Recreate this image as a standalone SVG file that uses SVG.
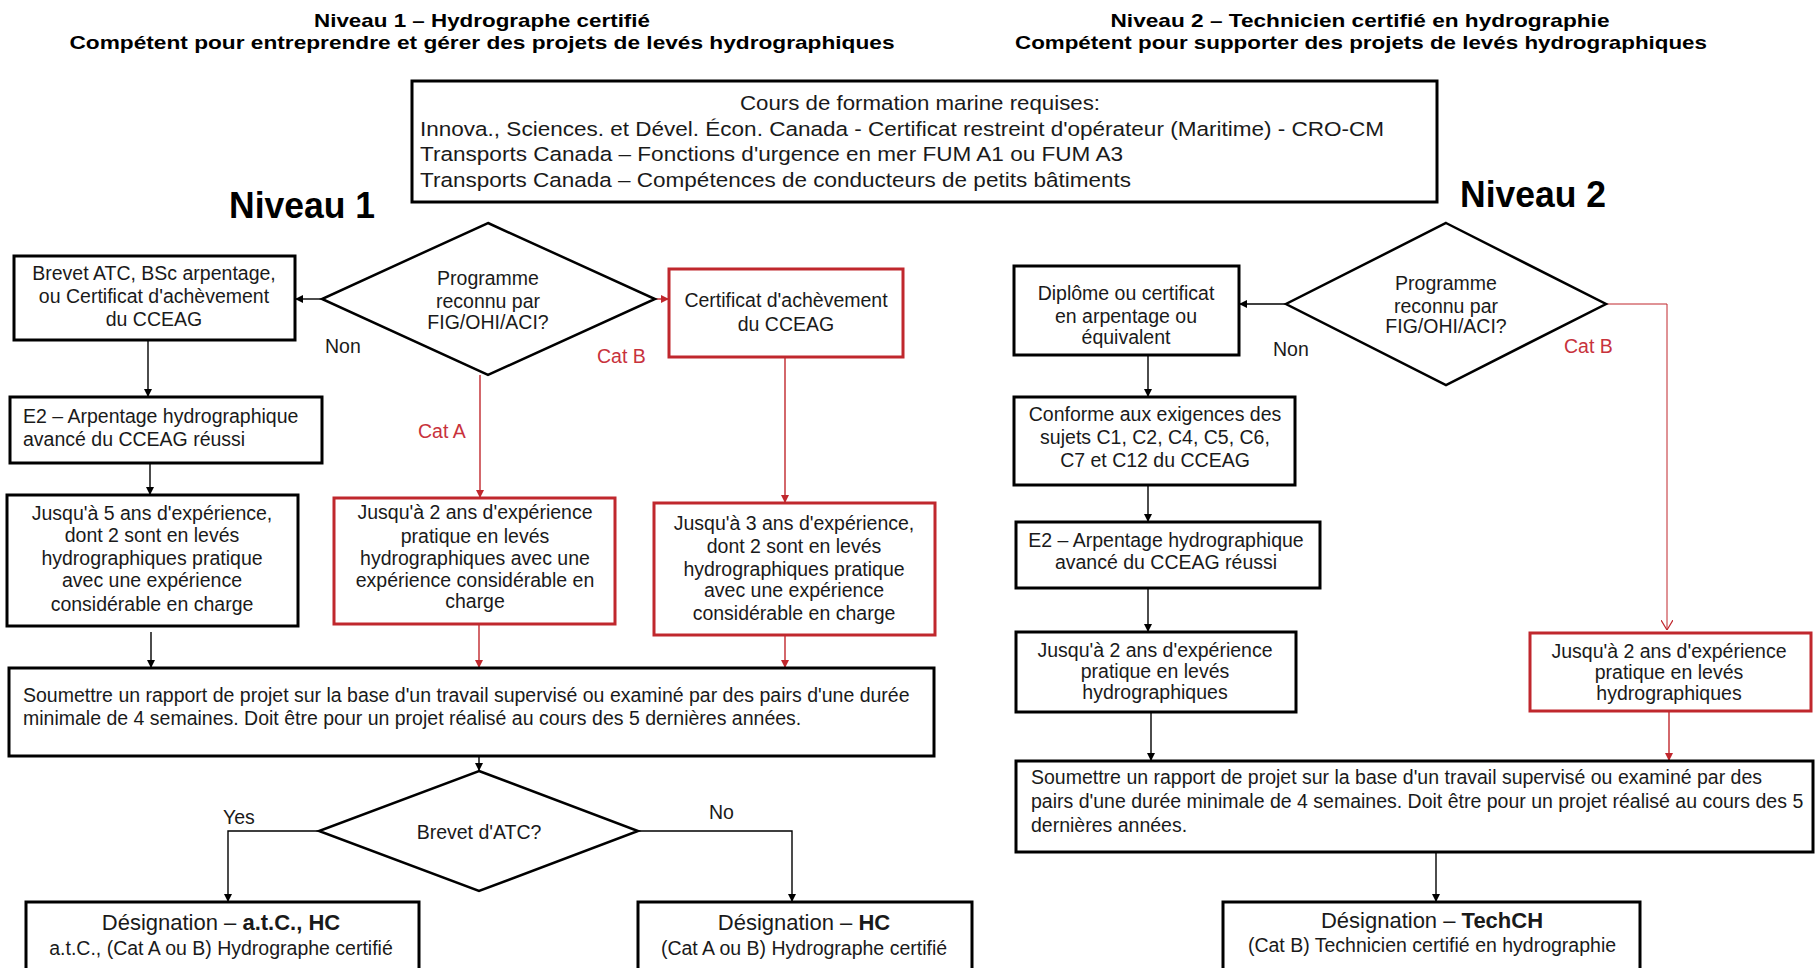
<svg xmlns="http://www.w3.org/2000/svg" width="1819" height="968" viewBox="0 0 1819 968">
<defs>
<style>
.box{fill:#fff;stroke:#000;stroke-width:3}
.rbox{fill:#fff;stroke:#c0272d;stroke-width:3}
.dia{fill:#fff;stroke:#000;stroke-width:2.5}
.c{stroke:#000;stroke-width:1.4;fill:none}
.rc{stroke:#c0272d;stroke-width:1.4;fill:none}
text{font-family:"Liberation Sans",Arial,sans-serif;font-size:19.5px;fill:#1a1a1a}
.m{text-anchor:middle}
.t{font-weight:bold;font-size:18.5px;fill:#000}
.big{font-weight:bold;font-size:36px;fill:#000}
.red{fill:#c8323c}
.des{font-size:22px}
.crs{font-size:20.5px}
</style>
<marker id="ab" viewBox="0 0 8 8" refX="8" refY="4" markerWidth="8" markerHeight="8" markerUnits="userSpaceOnUse" orient="auto"><path d="M0,0 L8,4 L0,8 z" fill="#000"/></marker>
<marker id="ar" viewBox="0 0 8 8" refX="8" refY="4" markerWidth="8" markerHeight="8" markerUnits="userSpaceOnUse" orient="auto"><path d="M0,0 L8,4 L0,8 z" fill="#c0272d"/></marker>
<marker id="av" viewBox="0 0 10 12" refX="10" refY="6" markerWidth="10" markerHeight="12" markerUnits="userSpaceOnUse" orient="auto"><path d="M0,0 L10,6 L0,12" fill="none" stroke="#c0272d" stroke-width="1.2"/></marker>
</defs>
<rect width="1819" height="968" fill="#fff"/>

<g id="titles">
<text class="t m" x="482" y="27" textLength="336" lengthAdjust="spacingAndGlyphs">Niveau 1 – Hydrographe certifié</text>
<text class="t m" x="482" y="49" textLength="825" lengthAdjust="spacingAndGlyphs">Compétent pour entreprendre et gérer des projets de levés hydrographiques</text>
<text class="t m" x="1360" y="27" textLength="499" lengthAdjust="spacingAndGlyphs">Niveau 2 – Technicien certifié en hydrographie</text>
<text class="t m" x="1361" y="49" textLength="692" lengthAdjust="spacingAndGlyphs">Compétent pour supporter des projets de levés hydrographiques</text>
<text class="big m" x="302" y="218" textLength="146" lengthAdjust="spacingAndGlyphs">Niveau 1</text>
<text class="big m" x="1533" y="207" textLength="146" lengthAdjust="spacingAndGlyphs">Niveau 2</text>
</g>

<g id="courses">
<rect class="box" x="412" y="81" width="1025" height="121"/>
<text class="m crs" x="920" y="110" textLength="360" lengthAdjust="spacingAndGlyphs">Cours de formation marine requises:</text>
<text class="crs" x="420" y="136" textLength="964" lengthAdjust="spacingAndGlyphs">Innova., Sciences. et Dével. Écon. Canada - Certificat restreint d'opérateur (Maritime) - CRO-CM</text>
<text class="crs" x="420" y="161" textLength="703" lengthAdjust="spacingAndGlyphs">Transports Canada – Fonctions d'urgence en mer FUM A1 ou FUM A3</text>
<text class="crs" x="420" y="187" textLength="711" lengthAdjust="spacingAndGlyphs">Transports Canada – Compétences de conducteurs de petits bâtiments</text>
</g>

<g id="connectors">
<line class="c" x1="322" y1="299" x2="295" y2="299" marker-end="url(#ab)"/>
<line class="rc" x1="655" y1="299" x2="669" y2="299" marker-end="url(#ar)"/>
<line class="rc" x1="480" y1="375" x2="480" y2="498" marker-end="url(#ar)"/>
<line class="c" x1="148" y1="340" x2="148" y2="397" marker-end="url(#ab)"/>
<line class="c" x1="150" y1="463" x2="150" y2="495" marker-end="url(#ab)"/>
<line class="rc" x1="785" y1="357" x2="785" y2="503" marker-end="url(#ar)"/>
<line class="c" x1="151" y1="632" x2="151" y2="668" marker-end="url(#ab)"/>
<line class="rc" x1="479" y1="624" x2="479" y2="668" marker-end="url(#ar)"/>
<line class="rc" x1="785" y1="635" x2="785" y2="668" marker-end="url(#ar)"/>
<line class="c" x1="479" y1="756" x2="479" y2="771" marker-end="url(#ab)"/>
<polyline class="c" points="319,831 228,831 228,902" marker-end="url(#ab)"/>
<polyline class="c" points="638,831 792,831 792,902" marker-end="url(#ab)"/>
<line class="c" x1="1286" y1="304" x2="1239" y2="304" marker-end="url(#ab)"/>
<polyline class="rc" points="1606,304 1667,304 1667,630" style="stroke-width:1" marker-end="url(#av)"/>
<line class="c" x1="1148" y1="355" x2="1148" y2="397" marker-end="url(#ab)"/>
<line class="c" x1="1148" y1="485" x2="1148" y2="522" marker-end="url(#ab)"/>
<line class="c" x1="1148" y1="588" x2="1148" y2="632" marker-end="url(#ab)"/>
<line class="c" x1="1151" y1="712" x2="1151" y2="761" marker-end="url(#ab)"/>
<line class="rc" x1="1669" y1="711" x2="1669" y2="761" marker-end="url(#ar)"/>
<line class="c" x1="1436" y1="852" x2="1436" y2="902" marker-end="url(#ab)"/>
</g>

<g id="labels">
<text x="325" y="353">Non</text>
<text class="red" x="597" y="363">Cat B</text>
<text class="red" x="418" y="438">Cat A</text>
<text x="223" y="824">Yes</text>
<text x="709" y="819">No</text>
<text x="1273" y="356">Non</text>
<text class="red" x="1564" y="353">Cat B</text>
</g>

<g id="n_brevet">
<rect class="box" x="14" y="256" width="281" height="84"/>
<text class="m" x="154" y="280">Brevet ATC, BSc arpentage,</text>
<text class="m" x="154" y="303">ou Certificat d'achèvement</text>
<text class="m" x="154" y="326">du CCEAG</text>
</g>

<g id="d_prog1">
<polygon class="dia" points="488,223 655,299 488,375 322,299"/>
<text class="m" x="488" y="285">Programme</text>
<text class="m" x="488" y="308">reconnu par</text>
<text class="m" x="488" y="329">FIG/OHI/ACI?</text>
</g>

<g id="n_cert">
<rect class="rbox" x="669" y="269" width="234" height="88"/>
<text class="m" x="786" y="307">Certificat d'achèvement</text>
<text class="m" x="786" y="331">du CCEAG</text>
</g>

<g id="n_e2L">
<rect class="box" x="10" y="397" width="312" height="66"/>
<text x="23" y="423">E2 – Arpentage hydrographique</text>
<text x="23" y="446">avancé du CCEAG réussi</text>
</g>

<g id="n_exp5">
<rect class="box" x="7" y="495" width="291" height="131"/>
<text class="m" x="152" y="520">Jusqu'à 5 ans d'expérience,</text>
<text class="m" x="152" y="542">dont 2 sont en levés</text>
<text class="m" x="152" y="565">hydrographiques pratique</text>
<text class="m" x="152" y="587">avec une expérience</text>
<text class="m" x="152" y="611">considérable en charge</text>
</g>

<g id="n_exp2L">
<rect class="rbox" x="334" y="498" width="281" height="126"/>
<text class="m" x="475" y="519">Jusqu'à 2 ans d'expérience</text>
<text class="m" x="475" y="543">pratique en levés</text>
<text class="m" x="475" y="565">hydrographiques avec une</text>
<text class="m" x="475" y="587">expérience considérable en</text>
<text class="m" x="475" y="608">charge</text>
</g>

<g id="n_exp3">
<rect class="rbox" x="654" y="503" width="281" height="132"/>
<text class="m" x="794" y="530">Jusqu'à 3 ans d'expérience,</text>
<text class="m" x="794" y="553">dont 2 sont en levés</text>
<text class="m" x="794" y="576">hydrographiques pratique</text>
<text class="m" x="794" y="597">avec une expérience</text>
<text class="m" x="794" y="620">considérable en charge</text>
</g>

<g id="n_submitL">
<rect class="box" x="9" y="668" width="925" height="88"/>
<text x="23" y="702">Soumettre un rapport de projet sur la base d'un travail supervisé ou examiné par des pairs d'une durée</text>
<text x="23" y="725">minimale de 4 semaines. Doit être pour un projet réalisé au cours des 5 dernières années.</text>
</g>

<g id="d_atc">
<polygon class="dia" points="479,771 638,831 479,891 319,831"/>
<text class="m" x="479" y="839">Brevet d'ATC?</text>
</g>

<g id="n_atc">
<rect class="box" x="26" y="902" width="393" height="80"/>
<text class="m des" x="221" y="930">Désignation  – <tspan font-weight="bold">a.t.C., HC</tspan></text>
<text class="m" x="221" y="955">a.t.C., (Cat A ou B) Hydrographe certifié</text>
</g>

<g id="n_hc">
<rect class="box" x="638" y="902" width="334" height="80"/>
<text class="m des" x="804" y="930">Désignation  – <tspan font-weight="bold">HC</tspan></text>
<text class="m" x="804" y="955">(Cat A ou B) Hydrographe certifié</text>
</g>

<g id="n_diplome">
<rect class="box" x="1014" y="266" width="225" height="89"/>
<text class="m" x="1126" y="300">Diplôme ou certificat</text>
<text class="m" x="1126" y="323">en arpentage ou</text>
<text class="m" x="1126" y="344">équivalent</text>
</g>

<g id="d_prog2">
<polygon class="dia" points="1446,223 1606,304 1446,385 1286,304"/>
<text class="m" x="1446" y="290">Programme</text>
<text class="m" x="1446" y="313">reconnu par</text>
<text class="m" x="1446" y="333">FIG/OHI/ACI?</text>
</g>

<g id="n_conforme">
<rect class="box" x="1014" y="397" width="281" height="88"/>
<text class="m" x="1155" y="421">Conforme aux exigences des</text>
<text class="m" x="1155" y="444">sujets C1, C2, C4, C5, C6,</text>
<text class="m" x="1155" y="467">C7 et C12 du CCEAG</text>
</g>

<g id="n_e2R">
<rect class="box" x="1016" y="522" width="304" height="66"/>
<text class="m" x="1166" y="547">E2 – Arpentage hydrographique</text>
<text class="m" x="1166" y="569">avancé du CCEAG réussi</text>
</g>

<g id="n_exp2R">
<rect class="box" x="1016" y="632" width="280" height="80"/>
<text class="m" x="1155" y="657">Jusqu'à 2 ans d'expérience</text>
<text class="m" x="1155" y="678">pratique en levés</text>
<text class="m" x="1155" y="699">hydrographiques</text>
</g>

<g id="n_exp2Rred">
<rect class="rbox" x="1530" y="633" width="281" height="78"/>
<text class="m" x="1669" y="658">Jusqu'à 2 ans d'expérience</text>
<text class="m" x="1669" y="679">pratique en levés</text>
<text class="m" x="1669" y="700">hydrographiques</text>
</g>

<g id="n_submitR">
<rect class="box" x="1016" y="761" width="797" height="91"/>
<text x="1031" y="784">Soumettre un rapport de projet sur la base d'un travail supervisé ou examiné par des</text>
<text x="1031" y="808">pairs d'une durée minimale de 4 semaines. Doit être pour un projet réalisé au cours des 5</text>
<text x="1031" y="832">dernières années.</text>
</g>

<g id="n_techch">
<rect class="box" x="1223" y="902" width="417" height="80"/>
<text class="m des" x="1432" y="928">Désignation  – <tspan font-weight="bold">TechCH</tspan></text>
<text class="m" x="1432" y="952">(Cat B) Technicien certifié en hydrographie</text>
</g>
</svg>
